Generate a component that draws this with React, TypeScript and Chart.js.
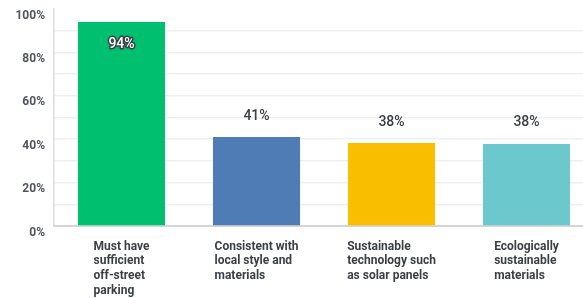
import React, { useEffect, useRef } from "react";
import { Chart, registerables } from "chart.js";

Chart.register(...registerables);

const categories: string[][] = [
  ["Must have", "sufficient", "off-street", "parking"],
  ["Consistent with", "local style and", "materials"],
  ["Sustainable", "technology such", "as solar panels"],
  ["Ecologically", "sustainable", "materials"],
];
const values: number[] = [94, 41, 38.2, 37.8];
const barColors: string[] = ["#00BF6F", "#507CB6", "#F9BE00", "#6BC8CD"];
const yTicks: number[] = [0, 20, 40, 60, 80, 100];

const FONT = "Roboto, 'Open Sans', sans-serif";
const TEXT = "#3a3f45";

const labelsPlugin = {
  id: "customLabels",
  afterDatasetsDraw(chart: any) {
    const ctx = chart.ctx;
    const meta = chart.getDatasetMeta(0);
    ctx.save();
    ctx.font = `500 14px ${FONT}`;
    ctx.textAlign = "center";
    ctx.textBaseline = "middle";
    meta.data.forEach((bar: any, i: number) => {
      const txt = Math.round(values[i]) + "%";
      if (values[i] > 85) {
        const y = bar.y + 22;
        ctx.lineWidth = 3;
        ctx.strokeStyle = "#3a3f45";
        ctx.lineJoin = "round";
        ctx.strokeText(txt, bar.x, y);
        ctx.fillStyle = "#ffffff";
        ctx.fillText(txt, bar.x, y);
      } else {
        ctx.fillStyle = TEXT;
        ctx.fillText(txt, bar.x, bar.y - 21);
      }
    });
    const xs = chart.scales.x;
    ctx.font = `700 12px ${FONT}`;
    ctx.textAlign = "left";
    ctx.fillStyle = TEXT;
    const top = chart.chartArea.bottom + 20.5;
    categories.forEach((lines, i) => {
      const cx = xs.getPixelForValue(i);
      const w = Math.max(...lines.map((l) => ctx.measureText(l).width));
      const left = cx - w / 2;
      lines.forEach((l, j) => {
        ctx.fillText(l, left, top + j * 14.8);
      });
    });
    ctx.restore();
  },
};

export default function App() {
  const ref = useRef<HTMLCanvasElement>(null);
  useEffect(() => {
    if (!ref.current) return;
    const chart = new Chart(ref.current, {
      type: "bar",
      data: {
        labels: categories.map((c) => c.join(" ")),
        datasets: [
          {
            data: values,
            backgroundColor: barColors,
            barPercentage: 0.645,
            categoryPercentage: 1,
          },
        ],
      },
      options: {
        responsive: false,
        animation: false,
        layout: { padding: { top: 9, right: 0, left: 0, bottom: 0 } },
        plugins: { legend: { display: false }, tooltip: { enabled: false } },
        scales: {
          x: {
            type: "category",
            offset: true,
            grid: { display: false, drawTicks: false },
            border: { display: true, color: "#d4d5d6", width: 2 },
            ticks: { display: false },
            afterFit: (s: any) => {
              s.height = 72;
              s.paddingLeft = 0;
              s.paddingRight = 0;
            },
          },
          y: {
            min: 0,
            max: 100,
            ticks: {
              stepSize: 10,
              autoSkip: false,
              padding: 9,
              labelOffset: 6.5,
              color: "#50555b",
              font: { family: FONT, size: 12, weight: 700 },
              callback: (v: any) => (yTicks.includes(Number(v)) ? v + "%" : ""),
            },
            grid: {
              drawTicks: false,
              color: (c: any) => (c.tick && c.tick.value === 100 ? "rgba(0,0,0,0)" : "#efefef"),
              lineWidth: 1.5,
            },
            border: { display: true, color: "#dcdcdc", width: 1.5 },
            afterFit: (s: any) => {
              s.width = 54;
              s.paddingTop = 0;
              s.paddingBottom = 0;
            },
          },
        },
      },
      plugins: [labelsPlugin],
    });
    return () => chart.destroy();
  }, []);
  return (
    <div style={{ position: "fixed", left: 0, top: 0, width: 583, height: 298, overflow: "hidden", background: "#fff" }}>
      <canvas ref={ref} width={594} height={298} style={{ display: "block" }} />
    </div>
  );
}
